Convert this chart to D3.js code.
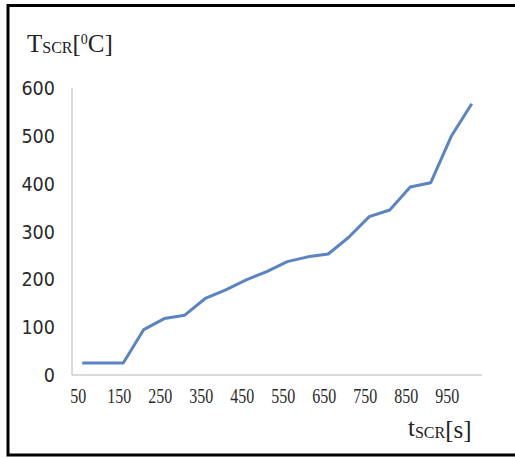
<!DOCTYPE html>
<meta charset="utf-8">
<script src="https://d3js.org/d3.v7.min.js"></script>
<style>
  body { margin: 0; background: white; }
  svg { display: block; }
</style>
<div id="chart"></div>
<script>
// time steps (s) and SCR temperature (deg C)
var times = [50, 100, 150, 200, 250, 300, 350, 400, 450, 500,
             550, 600, 650, 700, 750, 800, 850, 900, 950, 1000];
var temps = [25, 25, 25, 95, 118, 125, 160, 178, 199, 216,
             237, 247, 253, 288, 331, 345, 393, 402, 499, 567];
var yTicks = [0, 100, 200, 300, 400, 500, 600];
var xTickLabels = ["50", "150", "250", "350", "450", "550", "650", "750", "850", "950"];

var W = 515, H = 458;
var plot = {left: 72, right: 482, top: 88, bottom: 375};

var svg = d3.select("#chart").append("svg")
    .attr("width", W)
    .attr("height", H);

// outer frame (right edge is cut off in the original)
svg.append("path")
    .attr("d", "M530,5.5 H8 V455 H530")
    .attr("fill", "none")
    .attr("stroke", "black")
    .attr("stroke-width", 3);

var x = d3.scaleBand()
    .domain(times)
    .range([plot.left, plot.right]);

var y = d3.scaleLinear()
    .domain([0, 600])
    .range([plot.bottom, plot.top]);

// axes lines
svg.append("line")
    .attr("x1", plot.left).attr("x2", plot.left)
    .attr("y1", plot.top).attr("y2", plot.bottom)
    .attr("stroke", "#b4b4b4").attr("stroke-width", 1);
svg.append("line")
    .attr("x1", plot.left).attr("x2", plot.right)
    .attr("y1", plot.bottom).attr("y2", plot.bottom)
    .attr("stroke", "#b4b4b4").attr("stroke-width", 1);

// y tick labels
svg.selectAll(".ylab")
  .data(yTicks)
  .enter()
  .append("text")
    .attr("class", "ylab")
    .attr("transform", function(d) { return "translate(55," + (y(d) + 7) + ") scale(0.88,1)"; })
    .attr("text-anchor", "end")
    .style("font-family", "DejaVu Sans")
    .style("font-size", "20px")
    .style("fill", "#2a2a2a")
    .text(function(d) { return d; });

// x tick labels, every other category
svg.selectAll(".xlab")
  .data(xTickLabels)
  .enter()
  .append("text")
    .attr("class", "xlab")
    .attr("transform", function(d) {
      return "translate(" + (x(+d) + x.bandwidth() / 2 - 4) + ",403) scale(0.8,1)";
    })
    .attr("text-anchor", "middle")
    .style("font-family", "Liberation Serif")
    .style("font-size", "20px")
    .style("fill", "#2a2a2a")
    .text(function(d) { return d; });

// the curve
var line = d3.line()
    .x(function(d, i) { return x(times[i]) + x.bandwidth() / 2; })
    .y(function(d) { return y(d); });

svg.append("path")
    .datum(temps)
    .attr("d", line)
    .attr("fill", "none")
    .attr("stroke", "#5a84c2")
    .attr("stroke-width", 3)
    .attr("stroke-linejoin", "round");

// axis titles
var ytitle = svg.append("text")
    .attr("x", 27).attr("y", 52)
    .style("font-family", "Liberation Serif")
    .style("font-size", "25px")
    .style("fill", "#222");
ytitle.append("tspan").text("T");
ytitle.append("tspan").attr("dy", 1).style("font-size", "16px").text("SCR");
ytitle.append("tspan").attr("dy", -1).text("[");
ytitle.append("tspan").attr("dy", -8).style("font-size", "14px").text("0");
ytitle.append("tspan").attr("dy", 8).text("C]");

var xtitle = svg.append("text")
    .attr("x", 408).attr("y", 436)
    .style("font-family", "Liberation Serif")
    .style("font-size", "25px")
    .style("fill", "#222");
xtitle.append("tspan").text("t");
xtitle.append("tspan").attr("dy", 2).style("font-size", "16px").text("SCR");
xtitle.append("tspan").text("[s]");
</script>
